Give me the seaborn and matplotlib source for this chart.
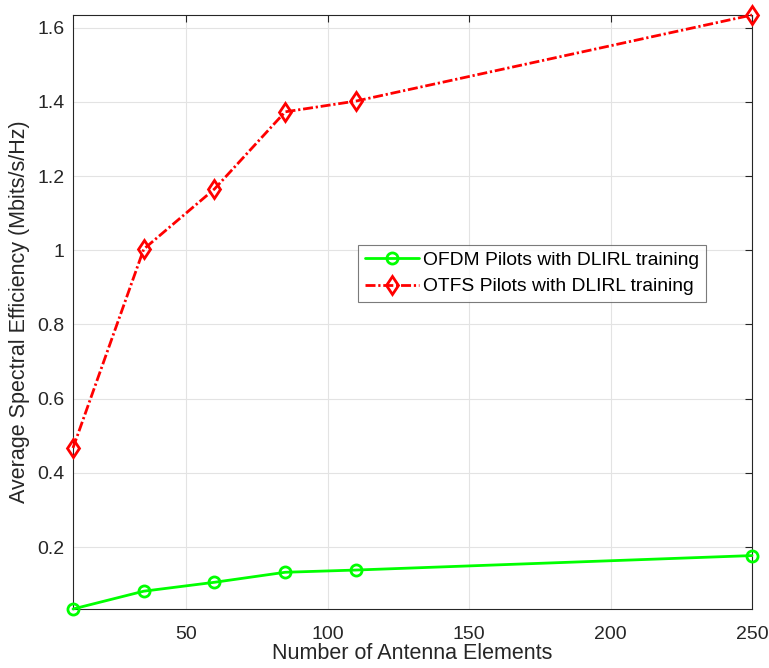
import matplotlib
matplotlib.use("Agg")
import matplotlib.pyplot as plt
import seaborn as sns
import numpy as np

antennas = [10, 35, 60, 85, 110, 250]
ofdm_se = [0.033, 0.081, 0.105, 0.132, 0.138, 0.177]
otfs_se = [0.467, 1.003, 1.165, 1.373, 1.402, 1.634]
xticks = [50, 100, 150, 200, 250]
yticks = [0.2, 0.4, 0.6, 0.8, 1.0, 1.2, 1.4, 1.6]
ytick_labels = ["0.2", "0.4", "0.6", "0.8", "1", "1.2", "1.4", "1.6"]
labels = ["OFDM Pilots with DLIRL training", "OTFS Pilots with DLIRL training"]

sns.set_style("white")
plt.rcParams['font.family'] = ['Liberation Sans', 'DejaVu Sans']
dark = "#262626"

fig = plt.figure(figsize=(7.69, 6.68), dpi=100)
ax = fig.add_axes([73/769, 59/668, 679/769, 594/668])

sns.lineplot(x=antennas, y=ofdm_se, ax=ax, color="#00FF00", linewidth=2,
             marker="o", markersize=8, markerfacecolor="none",
             markeredgecolor="#00FF00", markeredgewidth=2, label=labels[0],
             clip_on=False, zorder=3)
sns.lineplot(x=antennas, y=otfs_se, ax=ax, color="#FF0000", linewidth=2,
             linestyle=(0, (3.6, 1.0, 0.8, 1.0)),
             marker="d", markersize=9.5, markerfacecolor="none",
             markeredgecolor="#FF0000", markeredgewidth=2, label=labels[1],
             clip_on=False, zorder=3)

ax.set_xlim(min(antennas), max(antennas))
ax.set_ylim(min(ofdm_se), max(otfs_se))
ax.set_xticks(xticks)
ax.set_yticks(yticks)
ax.set_yticklabels(ytick_labels)
ax.grid(True, color="#e3e3e3", linewidth=0.8)
ax.set_axisbelow(True)
ax.tick_params(direction="in", length=5, width=0.8, colors=dark,
               labelsize=14, top=True, right=True)
ax.tick_params(axis="x", pad=12)
ax.tick_params(axis="y", pad=6)
for s in ax.spines.values():
    s.set_color(dark)
    s.set_linewidth(0.8)
ax.set_xlabel("Number of Antenna Elements", fontsize=15.5, color=dark, labelpad=0)
ax.set_ylabel("Average Spectral Efficiency (Mbits/s/Hz)", fontsize=15.5, color=dark, labelpad=5)

leg = ax.legend(loc="upper left", bbox_to_anchor=(0.42, 0.613), borderaxespad=0,
                fontsize=13.9, frameon=True, fancybox=False, edgecolor="#5a5a5a",
                handlelength=2.8, borderpad=0.35, labelspacing=0.45, handletextpad=0.2)
leg.get_frame().set_linewidth(0.8)
leg.set_zorder(5)
for t in leg.get_texts():
    t.set_color("black")

fig.savefig("out.png", dpi=100)
